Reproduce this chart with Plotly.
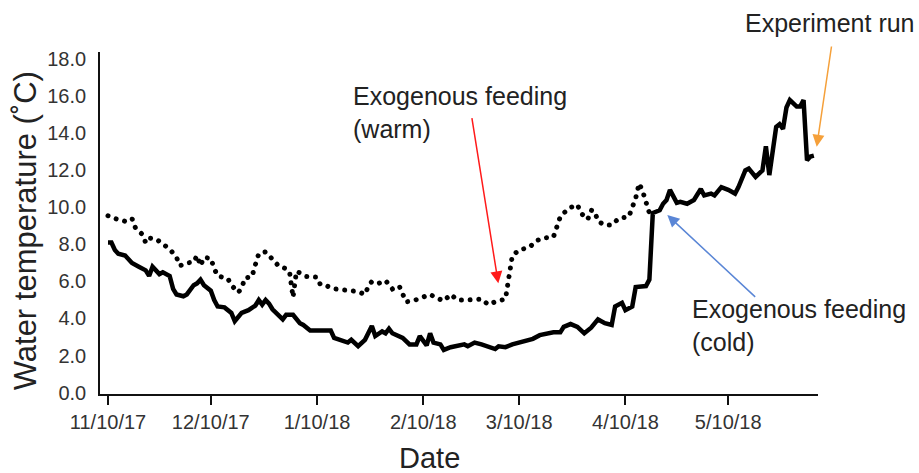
import plotly.graph_objects as go

# Cold incubation water temperature (solid line)
cold_dates = [
    "2017-11-10", "2017-11-11", "2017-11-12", "2017-11-13", "2017-11-15", "2017-11-17",
    "2017-11-19", "2017-11-21", "2017-11-22", "2017-11-23", "2017-11-25", "2017-11-26",
    "2017-11-28", "2017-11-29", "2017-11-30", "2017-12-02", "2017-12-03", "2017-12-05",
    "2017-12-06", "2017-12-07", "2017-12-08", "2017-12-10", "2017-12-11", "2017-12-12",
    "2017-12-14", "2017-12-16", "2017-12-17", "2017-12-19", "2017-12-21", "2017-12-23",
    "2017-12-24", "2017-12-25", "2017-12-26", "2017-12-27", "2017-12-28", "2017-12-29",
    "2017-12-31", "2018-01-01", "2018-01-03", "2018-01-05", "2018-01-06", "2018-01-08",
    "2018-01-11", "2018-01-14", "2018-01-15", "2018-01-17", "2018-01-19", "2018-01-20",
    "2018-01-22", "2018-01-24", "2018-01-25", "2018-01-26", "2018-01-27", "2018-01-29",
    "2018-01-30", "2018-01-31", "2018-02-01", "2018-02-03", "2018-02-04", "2018-02-06",
    "2018-02-08", "2018-02-09", "2018-02-11", "2018-02-12", "2018-02-13", "2018-02-15",
    "2018-02-16", "2018-02-18", "2018-02-20", "2018-02-22", "2018-02-23", "2018-02-25",
    "2018-02-27", "2018-03-01", "2018-03-03", "2018-03-04", "2018-03-06", "2018-03-08",
    "2018-03-10", "2018-03-12", "2018-03-14", "2018-03-16", "2018-03-18", "2018-03-20",
    "2018-03-22", "2018-03-23", "2018-03-25", "2018-03-27", "2018-03-29", "2018-03-31",
    "2018-04-02", "2018-04-04", "2018-04-06", "2018-04-07", "2018-04-09", "2018-04-10",
    "2018-04-12", "2018-04-13", "2018-04-16", "2018-04-17", "2018-04-18", "2018-04-20",
    "2018-04-21", "2018-04-22", "2018-04-23", "2018-04-25", "2018-04-26", "2018-04-28",
    "2018-04-30", "2018-05-02", "2018-05-03", "2018-05-05", "2018-05-06", "2018-05-08",
    "2018-05-10", "2018-05-12", "2018-05-13", "2018-05-15", "2018-05-16", "2018-05-18",
    "2018-05-20", "2018-05-21", "2018-05-22", "2018-05-23", "2018-05-24", "2018-05-25",
    "2018-05-26", "2018-05-27", "2018-05-28", "2018-05-30", "2018-05-31", "2018-06-01",
    "2018-06-02", "2018-06-03", "2018-06-04",
]
cold_temp = [
    8.1, 8.1, 7.7, 7.5, 7.4, 7.0,
    6.8, 6.6, 6.3, 6.8, 6.4, 6.5,
    6.3, 5.6, 5.3, 5.2, 5.3, 5.8,
    5.9, 6.1, 5.8, 5.5, 5.0, 4.65,
    4.6, 4.3, 3.85, 4.3, 4.45, 4.7,
    5.0, 4.75, 5.0, 4.8, 4.5, 4.3,
    3.95, 4.2, 4.2, 3.75, 3.65, 3.35,
    3.35, 3.35, 2.95, 2.85, 2.7, 2.85,
    2.5, 2.85, 3.3, 3.6, 3.05, 3.3,
    3.2, 3.45, 3.2, 3.05, 2.95, 2.6,
    2.6, 3.05, 2.55, 3.2, 2.7, 2.6,
    2.3, 2.45, 2.5, 2.6, 2.5, 2.7,
    2.6, 2.45, 2.35, 2.5, 2.45, 2.6,
    2.7, 2.8, 2.9, 3.1, 3.2, 3.25,
    3.25, 3.55, 3.7, 3.55, 3.2, 3.5,
    3.95, 3.75, 3.65, 4.65, 4.85, 4.45,
    4.65, 5.7, 5.75, 6.1, 9.7, 9.85,
    10.2, 10.4, 10.95, 10.25, 10.3, 10.2,
    10.4, 11.0, 10.65, 10.75, 10.65, 11.1,
    10.95, 10.75, 11.1, 12.0, 12.1, 11.65,
    12.0, 13.3, 11.75, 12.9, 14.35, 14.5,
    14.25, 15.4, 15.8, 15.45, 15.45, 15.8,
    12.55, 12.75, 12.8,
]

# Warm incubation water temperature (dotted line)
warm_dates = [
    "2017-11-10", "2017-11-12", "2017-11-15", "2017-11-17", "2017-11-18", "2017-11-20",
    "2017-11-21", "2017-11-22", "2017-11-24", "2017-11-26", "2017-11-28", "2017-11-30",
    "2017-12-01", "2017-12-03", "2017-12-05", "2017-12-06", "2017-12-07", "2017-12-08",
    "2017-12-10", "2017-12-11", "2017-12-12", "2017-12-15", "2017-12-16", "2017-12-18",
    "2017-12-19", "2017-12-20", "2017-12-22", "2017-12-23", "2017-12-24", "2017-12-26",
    "2017-12-28", "2017-12-30", "2018-01-01", "2018-01-02", "2018-01-03", "2018-01-04",
    "2018-01-07", "2018-01-10", "2018-01-11", "2018-01-13", "2018-01-15", "2018-01-17",
    "2018-01-20", "2018-01-22", "2018-01-24", "2018-01-25", "2018-01-26", "2018-01-28",
    "2018-01-30", "2018-02-01", "2018-02-03", "2018-02-04", "2018-02-05", "2018-02-07",
    "2018-02-10", "2018-02-12", "2018-02-14", "2018-02-16", "2018-02-18", "2018-02-20",
    "2018-02-23", "2018-02-25", "2018-02-27", "2018-03-01", "2018-03-03", "2018-03-06",
    "2018-03-07", "2018-03-08", "2018-03-10", "2018-03-13", "2018-03-15", "2018-03-17",
    "2018-03-20", "2018-03-21", "2018-03-22", "2018-03-23", "2018-03-25", "2018-03-27",
    "2018-03-28", "2018-03-30", "2018-03-31", "2018-04-01", "2018-04-02", "2018-04-04",
    "2018-04-06", "2018-04-08", "2018-04-11", "2018-04-12", "2018-04-13", "2018-04-14",
    "2018-04-15", "2018-04-16", "2018-04-17",
]
warm_temp = [
    9.55, 9.4, 9.25, 9.4, 8.9, 8.55,
    8.1, 8.35, 8.3, 8.0, 7.75, 7.3,
    6.85, 7.0, 7.05, 7.4, 6.85, 7.3,
    7.25, 6.7, 6.3, 6.15, 5.8, 5.4,
    5.65, 6.2, 6.25, 6.9, 7.5, 7.6,
    7.15, 6.8, 6.7, 6.5, 5.15, 6.55,
    6.27, 6.23, 5.82, 5.75, 5.6, 5.55,
    5.45, 5.45, 5.3, 5.75, 6.0, 5.9,
    6.05, 5.6, 5.75, 5.3, 4.9, 4.95,
    5.2, 5.3, 5.1, 4.95, 5.3, 5.0,
    5.0, 5.0, 5.05, 4.75, 4.9, 5.05,
    6.3, 7.4, 7.7, 7.85, 8.2, 8.35,
    8.4, 9.0, 9.5, 9.7, 10.0, 10.15,
    9.7, 9.35, 9.85, 9.8, 9.25, 9.05,
    9.05, 9.4, 9.5, 10.0, 10.5, 11.3,
    10.9, 10.3, 9.7,
]

tick_dates = ["2017-11-10", "2017-12-10", "2018-01-10", "2018-02-10",
              "2018-03-10", "2018-04-10", "2018-05-10"]
tick_text = ["11/10/17", "12/10/17", "1/10/18", "2/10/18",
             "3/10/18", "4/10/18", "5/10/18"]
y_ticks = [0, 2, 4, 6, 8, 10, 12, 14, 16, 18]

FONT = "Liberation Sans, Arial, Helvetica, sans-serif"
TEXT = "#222222"

fig = go.Figure()
fig.add_trace(go.Scatter(
    x=warm_dates, y=warm_temp, mode="lines", name="Warm",
    line=dict(color="#000000", width=5, dash="4px,4.6px"),
))
fig.add_trace(go.Scatter(
    x=cold_dates, y=cold_temp, mode="lines", name="Cold",
    line=dict(color="#000000", width=4.5),
))

fig.update_layout(
    width=919, height=473,
    margin=dict(l=100, r=101, t=52, b=79),
    paper_bgcolor="white", plot_bgcolor="white",
    showlegend=False,
    font=dict(family=FONT, color=TEXT),
    xaxis=dict(
        type="date",
        range=["2017-11-07 16:00", "2018-06-05 05:00"],
        tickvals=tick_dates, ticktext=tick_text,
        showline=True, linecolor="#111111", linewidth=1.6,
        ticks="outside", ticklen=9, tickwidth=1.5, tickcolor="#111111",
        showgrid=False, zeroline=False,
        tickfont=dict(size=20, color="#333333", family=FONT),
    ),
    yaxis=dict(
        range=[-0.08, 18.4],
        tickvals=y_ticks, tickformat=".1f",
        showline=True, linecolor="#111111", linewidth=1.6,
        ticks="", showgrid=False, zeroline=False,
        ticklabelstandoff=8,
        tickfont=dict(size=20, color="#333333", family=FONT),
    ),
)

ann_font = dict(family=FONT, size=25, color=TEXT)

# axis titles
fig.add_annotation(xref="paper", yref="paper", x=0.4596, y=-0.187,
                   text="Date", showarrow=False, xanchor="center", yanchor="middle",
                   font=dict(family=FONT, size=29, color=TEXT))
fig.add_annotation(xref="paper", yref="paper", x=-0.104, y=0.4766,
                   text="Water temperature (˚C)", textangle=-90, showarrow=False,
                   xanchor="center", yanchor="middle",
                   font=dict(family=FONT, size=31, color=TEXT))

# event labels
fig.add_annotation(xref="paper", yref="paper", x=0.350, y=0.823,
                   text="Exogenous feeding<br>(warm)", showarrow=False,
                   xanchor="left", yanchor="middle", align="left", font=ann_font)
fig.add_annotation(xref="paper", yref="paper", x=0.822, y=0.199,
                   text="Exogenous feeding<br>(cold)", showarrow=False,
                   xanchor="left", yanchor="middle", align="left", font=ann_font)
fig.add_annotation(xref="paper", yref="paper", x=0.896, y=1.084,
                   text="Experiment run", showarrow=False,
                   xanchor="left", yanchor="middle", align="left", font=ann_font)

# event arrows
arrow_common = dict(xref="paper", yref="paper", text="", showarrow=True,
                    arrowhead=2, arrowsize=1.6, arrowwidth=1.5, standoff=0)
fig.add_annotation(x=0.5547, y=0.3237, ax=-26.6, ay=-166.6,
                   arrowcolor="#ff1a1a", **arrow_common)
fig.add_annotation(x=0.7901, y=0.5234, ax=89.4, ay=83.3,
                   arrowcolor="#5a86d6", **arrow_common)
fig.add_annotation(x=0.9982, y=0.7231, ax=15, ay=-101.7,
                   arrowcolor="#f5a03a", **arrow_common)

# round dots for the warm series: round caps on a near-zero dash
round_dots = """
var gd = document.getElementById('{plot_id}');
var tr = gd.querySelectorAll('.scatterlayer .trace')[0];
tr.querySelectorAll('path.js-line').forEach(function (p) {
    p.style.strokeLinecap = 'round';
    p.style.strokeDasharray = '0.01px, 8.7px';
});
"""

fig.write_html("out.html", post_script=round_dots)
